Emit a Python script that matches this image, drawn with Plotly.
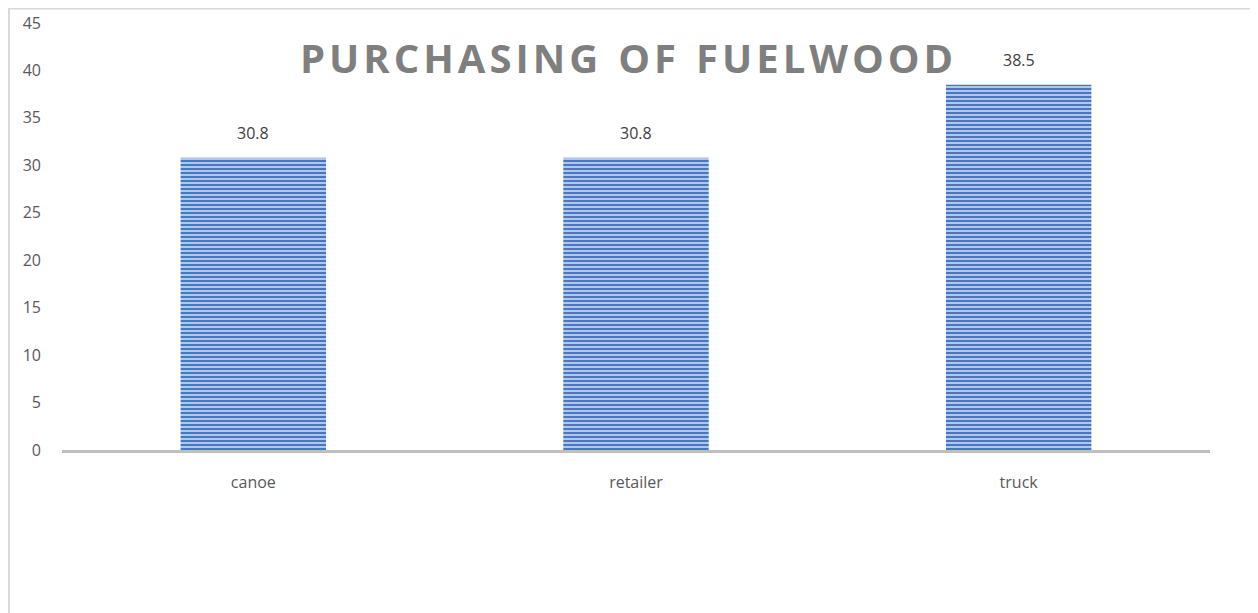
import plotly.graph_objects as go

# purchasing channels and share (%)
categories = ["canoe", "retailer", "truck"]
values = [30.8, 30.8, 38.5]
y_ticks = [0, 5, 10, 15, 20, 25, 30, 35, 40, 45]

fig = go.Figure()
fig.add_trace(go.Bar(
    x=categories,
    y=values,
    marker=dict(
        color="#4f7fc6",
        line=dict(width=0),
        pattern=dict(shape="-", fgcolor="#4677c0", bgcolor="#b2c7e8",
                     size=4, solidity=0.5, fillmode="replace"),
    ),
    hoverinfo="skip",
))

# value labels above each bar
for c, v in zip(categories, values):
    fig.add_annotation(x=c, y=v, text=str(v), showarrow=False, yshift=25,
                       font=dict(family="Open Sans", size=16, color="#404040"))

# chart title, sitting inside the plot area (letter-spaced)
title = "PURCHASING OF FUELWOOD"
spaced = "\u200a".join(title).replace("\u200a \u200a", "\u2002")
fig.add_annotation(x=0.492, y=0.92, xref="paper", yref="paper",
                   xanchor="center", yanchor="middle",
                   text="<b>" + spaced + "</b>", showarrow=False,
                   font=dict(family="Open Sans", size=40, color="#7f7f7f"))

# outer frame of the chart area
fig.add_shape(type="rect", xref="paper", yref="paper",
              x0=-0.0462, x1=1.040, y0=-0.5, y1=1.0338,
              line=dict(color="#d9d9d9", width=2), fillcolor="rgba(0,0,0,0)")

fig.update_layout(
    width=1258, height=613,
    margin=dict(l=54, r=56, t=15, b=171),
    paper_bgcolor="white", plot_bgcolor="white",
    bargap=0.62,
    showlegend=False,
    font=dict(family="Open Sans", size=16, color="#595959"),
)
fig.update_xaxes(showline=True, linecolor="#bfbfbf", linewidth=3,
                 showgrid=False, ticks="", ticklabelstandoff=16,
                 automargin=False,
                 tickfont=dict(size=16, color="#595959"))
fig.update_yaxes(range=[0, 45], tickvals=y_ticks, showgrid=False,
                 zeroline=False, showline=False, ticks="",
                 ticklabelstandoff=20, automargin=False,
                 tickfont=dict(size=16, color="#595959"))

fig.write_html("out.html")
